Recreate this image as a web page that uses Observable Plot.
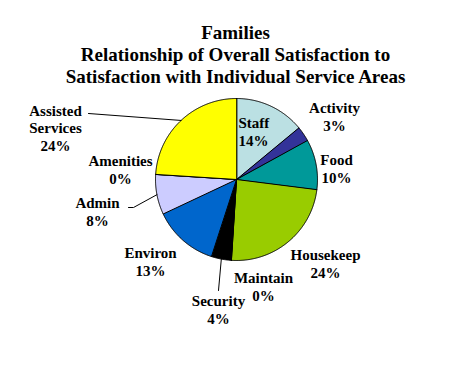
<!DOCTYPE html>
<html><head><meta charset="utf-8">
<script src="https://cdn.jsdelivr.net/npm/d3@7"></script>
<script src="https://cdn.jsdelivr.net/npm/@observablehq/plot@0.6"></script>
<style>
body{margin:0;background:#fff;width:451px;height:367px;overflow:hidden;font-family:"Liberation Serif","Times New Roman",Times,"DejaVu Serif",serif;}
#title{box-sizing:border-box;height:88px;padding-top:22px;padding-left:20px;text-align:center;font-weight:bold;font-size:19px;line-height:22px;color:#000;white-space:nowrap;}
#chart svg{display:block;}
</style></head><body>
<div id="title">Families<br>Relationship of Overall Satisfaction to<br>Satisfaction with Individual Service Areas</div>
<div id="chart"></div>
<script>
// ---- data ----
const categories = ["Staff","Activity","Food","Housekeep","Maintain","Security","Environ","Admin","Amenities","Assisted Services"];
const values = [14, 3, 10, 24, 0, 4, 13, 8, 0, 24];
const labelTexts = ["Staff\n14%","Activity\n3%","Food\n10%","Housekeep\n24%","Maintain\n0%","Security\n4%","Environ\n13%","Admin\n8%","Amenities\n0%","Assisted\nServices\n24%"];
const colors = ["#BBE0E3","#333399","#009999","#99CC00","#FFFFFF","#000000","#0066CC","#CCCCFF","#FFFFFF","#FFFF00"];

// ---- layout (pixels relative to pie centre, y up) ----
const R = 81;
const labelOffset = {
  "Staff": [2, 48], "Activity": [98, 63], "Food": [100, 11], "Housekeep": [89, -84],
  "Maintain": [27, -107], "Security": [-18, -130], "Environ": [-86, -82],
  "Admin": [-139, -32], "Amenities": [-116, 10], "Assisted Services": [-181, 52]
};
const leaders = {
  "Assisted Services": [[-148, 66]],
  "Admin": [[-103, -28], [-108, -28]],
  "Security": [[-18, -111]]
};

const rows = categories.map((c, i) => ({name: c, value: values[i], label: labelTexts[i]}));
const arcs = d3.pie().sort(null).value(d => d.value)(rows);

const slicePts = [];
for (const a of arcs) {
  const name = a.data.name;
  slicePts.push({name, x: 0, y: 0});
  const n = Math.max(1, Math.ceil((a.endAngle - a.startAngle) / (Math.PI / 360)));
  for (let k = 0; k <= n; k++) {
    const t = a.startAngle + (a.endAngle - a.startAngle) * k / n;
    slicePts.push({name, x: R * Math.sin(t), y: R * Math.cos(t)});
  }
}

const leaderPts = [];
for (const a of arcs) {
  const name = a.data.name;
  if (!leaders[name]) continue;
  const m = (a.startAngle + a.endAngle) / 2;
  leaderPts.push({name, x: R * Math.sin(m), y: R * Math.cos(m)});
  for (const p of leaders[name]) leaderPts.push({name, x: p[0], y: p[1]});
}

const labels = rows.map(r => ({name: r.name, text: r.label, x: labelOffset[r.name][0], y: labelOffset[r.name][1]}));

const W = 451, H = 279, cx = 236, cy = 91;
const font = {fontFamily: "'Liberation Serif', 'Times New Roman', Times, 'DejaVu Serif', serif", fontSize: 15, fontWeight: "bold", lineHeight: 1.17, fill: "#000"};

const chart = Plot.plot({
  width: W, height: H,
  margin: 0,
  x: {domain: [-cx, W - cx], axis: null},
  y: {domain: [-(H - cy), cy], axis: null},
  color: {domain: categories, range: colors},
  style: {background: "#fff"},
  marks: [
    Plot.line(slicePts, {x: "x", y: "y", z: "name", fill: "name", stroke: "#000", strokeWidth: 1, curve: "linear-closed", strokeLinejoin: "round"}),
    Plot.line(leaderPts, {x: "x", y: "y", z: "name", stroke: "#000", strokeWidth: 1}),
    Plot.text(labels.filter(d => d.name === "Staff"), {x: "x", y: "y", text: "text", textAnchor: "start", ...font}),
    Plot.text(labels.filter(d => d.name !== "Staff"), {x: "x", y: "y", text: "text", textAnchor: "middle", ...font})
  ]
});
document.getElementById("chart").appendChild(chart);
</script>
</body></html>
